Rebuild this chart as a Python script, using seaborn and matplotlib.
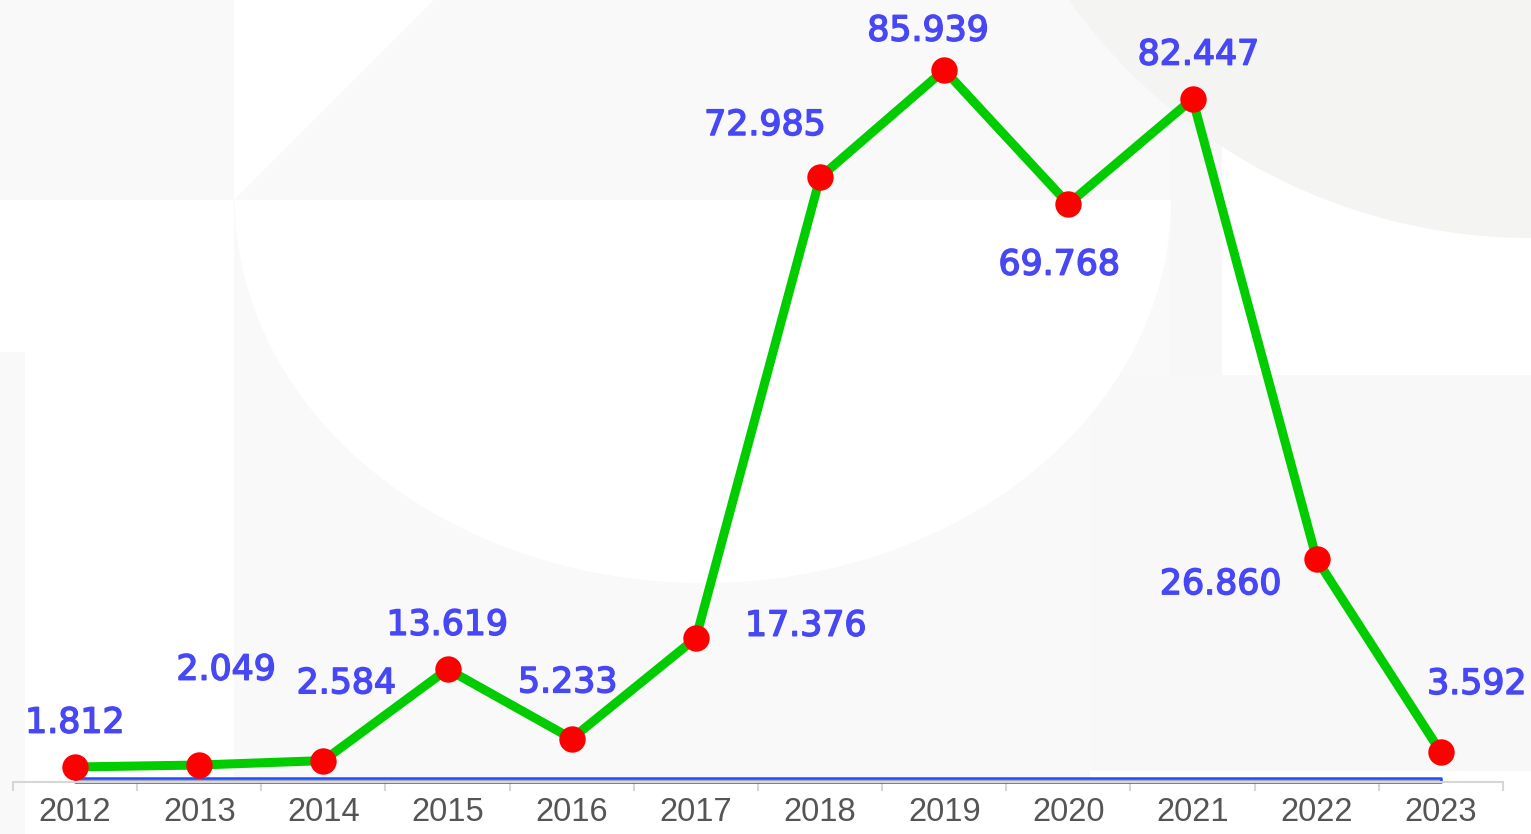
import numpy as np
import pandas as pd
import matplotlib
matplotlib.use("Agg")
import matplotlib.pyplot as plt
import matplotlib.patheffects as pe
import seaborn as sns
from matplotlib.patches import Polygon

# ---- data ----
years = [2012, 2013, 2014, 2015, 2016, 2017, 2018, 2019, 2020, 2021, 2022, 2023]
values = [1.812, 2.049, 2.584, 13.619, 5.233, 17.376, 72.985, 85.939, 69.768, 82.447, 26.860, 3.592]
value_labels = ["1.812", "2.049", "2.584", "13.619", "5.233", "17.376",
                "72.985", "85.939", "69.768", "82.447", "26.860", "3.592"]
base_values = [0.5, 0.5, 0.5, 0.5, 0.5, 0.5, 0.5, 0.5, 0.5, 0.5, 0.5, 0.5]
tick_labels = [str(y) for y in years]

# label offsets (pixels, centre of label relative to point, +y up)
label_offsets = [(0, 47), (27, 98), (23, 80), (0, 47), (-4, 59), (110, 15),
                 (-55, 55), (-16, 42), (-9, -58), (6, 47), (-96, -22), (36, 71)]

W, H = 1531, 834
sns.set_theme(style="white")
plt.rcParams["font.family"] = ["DejaVu Sans"]

fig = plt.figure(figsize=(W / 100, H / 100), dpi=100)
fig.patch.set_facecolor("white")


def px(x, y):
    return (x / W, 1 - y / H)


def poly(pts, color, z=0):
    fig.add_artist(Polygon([px(*p) for p in pts], closed=True, transform=fig.transFigure,
                           facecolor=color, edgecolor="none", zorder=z))


LG = "#f9f9f9"
# background watermark shapes
poly([(0, 0), (234, 0), (234, 200), (434, 0), (1170, 0), (1170, 200), (0, 200)], LG)
poly([(234, 200), (1170, 200), (1170, 375), (1090, 375), (1090, 782), (234, 782)], LG)
poly([(1090, 375), (1531, 375), (1531, 771), (1090, 771)], "#f8f8f8")
poly([(0, 352), (25, 352), (25, 834), (0, 834)], LG)
poly([(1170, 0), (1222, 0), (1222, 375), (1170, 375)], "#f7f7f7")
t = np.linspace(0, np.pi, 200)
ell = [(703 + 468 * np.cos(a), 200 + 383 * np.sin(a)) for a in t]
poly(ell, "white", z=0.5)
theta = np.linspace(0, 2 * np.pi, 400)
circ = [(1531 + 568 * np.cos(a), -330 + 568 * np.sin(a)) for a in theta]
poly(circ, "#f4f4f3", z=0.6)

# ---- axes ----
ax = fig.add_axes([13 / W, (H - 782) / H, (1503 - 13) / W, 782 / H])
ax.patch.set_alpha(0)
ax.set_zorder(2)

df = pd.DataFrame({"year": years, "value": values})
ax.fill_between(years, 0, base_values, facecolor="#a8a8b8", edgecolor="#1f4fff",
                linewidth=1.8, zorder=2, clip_on=False)
sns.lineplot(data=df, x="year", y="value", ax=ax, color="#00cc00", linewidth=6.5,
             marker="o", markersize=19, markerfacecolor="#ff0000",
             markeredgecolor="#ff0000", markeredgewidth=0, zorder=3, clip_on=False)

ax.set_xlim(2011.5, 2023.5)
ax.set_ylim(0, 782 / 8.285)

cap_half = 0.73 * 25 * 100 / 72 / 2
lbl_color = "#4747f5"
for x, v, lbl, (dx, dy) in zip(years, values, value_labels, label_offsets):
    ax.annotate(lbl, (x, v), xytext=(dx, dy - cap_half), textcoords="offset pixels",
                ha="center", va="baseline", fontsize=25, color=lbl_color,
                zorder=4, annotation_clip=False,
                path_effects=[pe.withStroke(linewidth=1.1, foreground=lbl_color)])

for s in ["top", "left", "right"]:
    ax.spines[s].set_visible(False)
ax.spines["bottom"].set_color("#d6d6d6")
ax.spines["bottom"].set_linewidth(1.5)
ax.set_yticks([])
ax.set_xticks(np.arange(2011.5, 2024.0, 1.0))
ax.set_xticklabels([])
ax.tick_params(axis="x", which="major", length=6.5, width=1.5, color="#d6d6d6", bottom=True)
ax.set_xticks(years, minor=True)
ax.set_xticklabels(tick_labels, minor=True, fontsize=23.5, color="#555555",
                   fontfamily="Liberation Sans")
ax.tick_params(axis="x", which="minor", length=0, pad=10.5)
ax.set_xlabel("")
ax.set_ylabel("")

fig.savefig("out.png", dpi=100)
